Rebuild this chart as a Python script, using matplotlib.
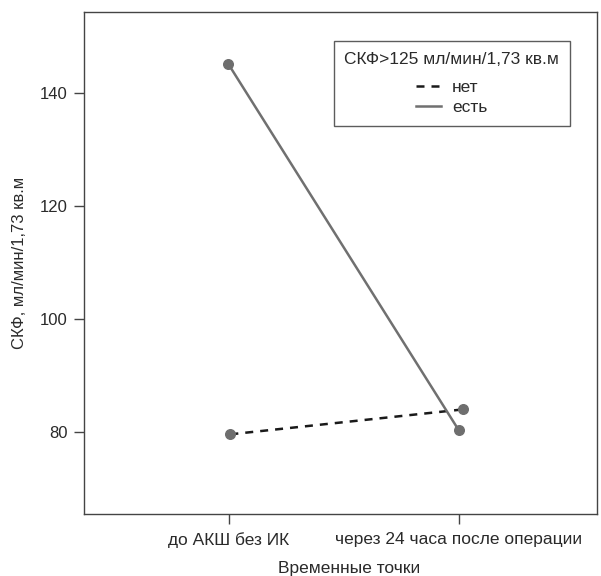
import matplotlib.pyplot as plt
import numpy as np

plt.rcParams['font.family'] = ['Liberation Sans', 'DejaVu Sans']

# data
time_points = ["до АКШ без ИК", "через 24 часа после операции"]
gfr_no = [79.6, 84.0]      # СКФ>125: нет
gfr_yes = [145.2, 80.3]    # СКФ>125: есть
legend_title = "СКФ>125 мл/мин/1,73 кв.м"
series_labels = ["нет", "есть"]

x = np.arange(len(time_points))
txt_color = "#2a2a2a"
fs = 12.5

fig, ax = plt.subplots(figsize=(6.01, 5.76), dpi=100)
fig.subplots_adjust(left=0.14, right=0.993, top=0.979, bottom=0.1076)

ax.plot(x + np.array([0.006, 0.016]), gfr_no, linestyle=(0, (3.2, 2.8)), color="#1a1a1a",
        linewidth=1.8, label=series_labels[0], zorder=2)
ax.plot(x + np.array([-0.004, 0.0]), gfr_yes, linestyle="-", color="#707070",
        linewidth=1.8, label=series_labels[1], zorder=2)
ax.scatter(x + np.array([0.006, 0.016]), gfr_no, color="#6e6e6e", s=48, zorder=3)
ax.scatter(x + np.array([-0.004, 0.0]), gfr_yes, color="#6e6e6e", s=48, zorder=3)

ax.set_xlim(-0.63, 1.6)
ax.set_ylim(65.5, 154.3)
ax.set_xticks(x)
ax.set_xticklabels(time_points, fontsize=fs)
ax.set_yticks([80, 100, 120, 140])
ax.tick_params(axis="both", direction="out", length=7.5, width=1, color="#444444",
               labelsize=fs - 0.5, labelcolor=txt_color, pad=4.5)
ax.tick_params(axis="x", labelsize=fs, pad=5.5)
for sp in ax.spines.values():
    sp.set_color("#444444")
    sp.set_linewidth(1)

ax.set_xlabel("Временные точки", fontsize=fs, color=txt_color)
ax.xaxis.set_label_coords(0.517, -0.093)
ax.set_ylabel("СКФ, мл/мин/1,73 кв.м", fontsize=fs - 0.5, color=txt_color)
ax.yaxis.set_label_coords(-0.112, 0.5)

leg = ax.legend(title=legend_title, loc="upper right", bbox_to_anchor=(0.947, 0.942),
                frameon=True, fancybox=False, fontsize=fs, title_fontsize=fs,
                handlelength=1.4, handletextpad=0.65, borderpad=0.6, labelspacing=0.3,
                borderaxespad=0)
leg._legend_box.sep = 9.5  # extra gap between title and entries
leg.get_frame().set_edgecolor("#333333")
leg.get_frame().set_linewidth(1)
leg.get_title().set_color(txt_color)
for t in leg.get_texts():
    t.set_color(txt_color)

fig.savefig("out.png", dpi=100)
